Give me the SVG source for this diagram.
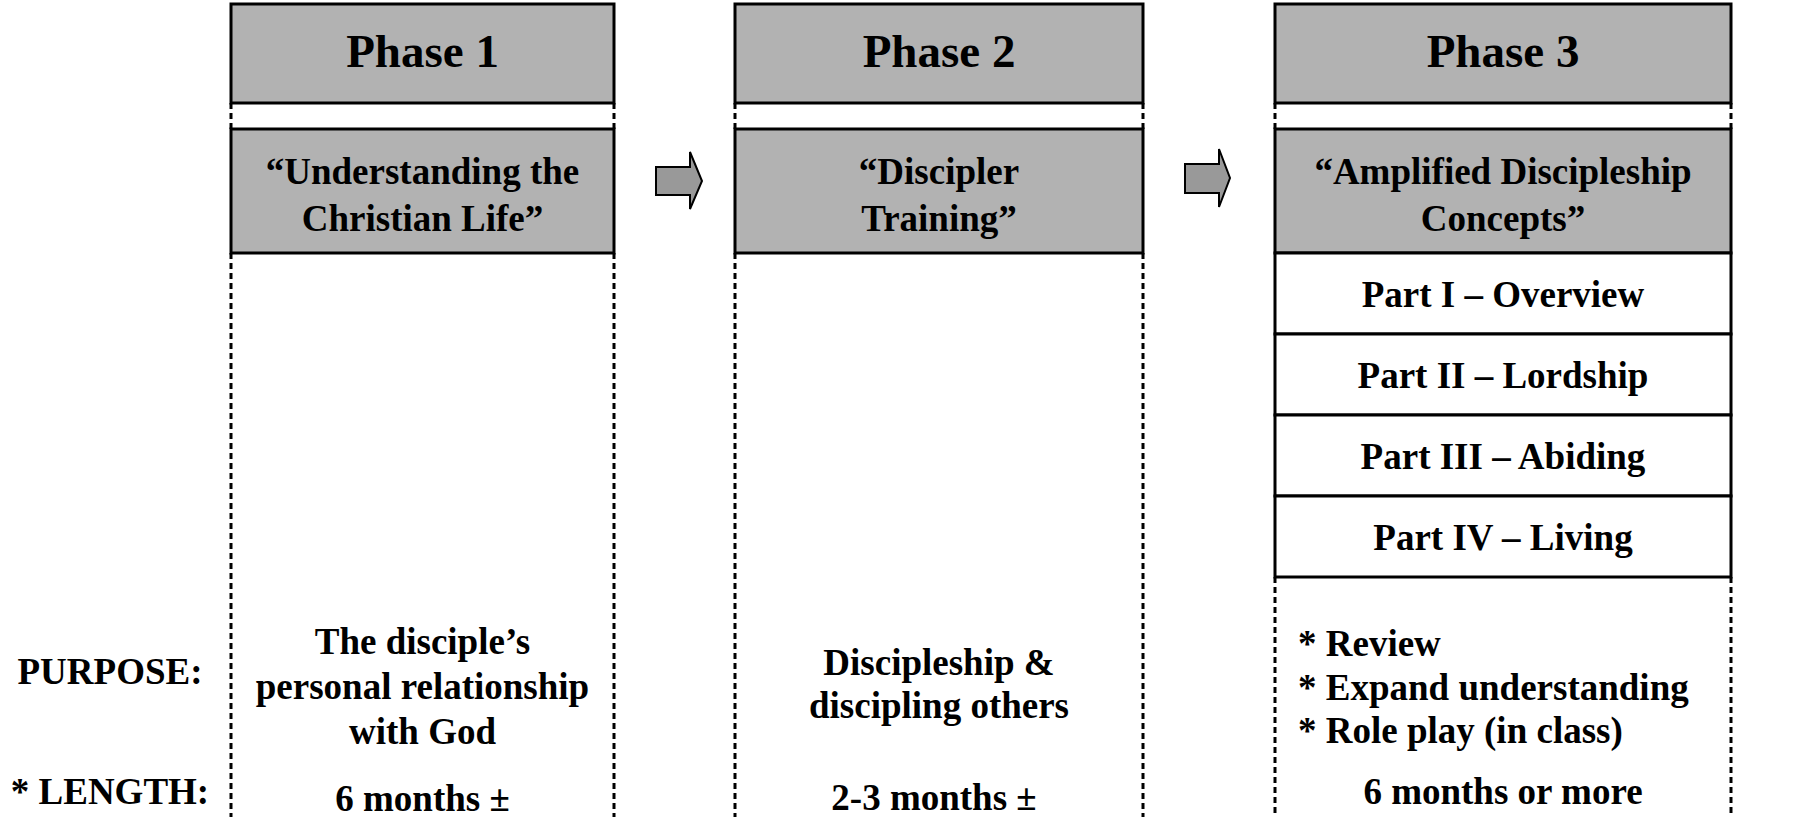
<svg xmlns="http://www.w3.org/2000/svg" width="1818" height="817" viewBox="0 0 1818 817">
<style>
text{font-family:"Liberation Serif","Times New Roman",serif;font-weight:bold;fill:#000;}
.t{font-size:47px;text-anchor:middle;}
.s{font-size:37px;text-anchor:middle;}
.l{font-size:37px;text-anchor:start;}
.hdr{fill:#b2b2b2;stroke:#000;stroke-width:3;}
.part{fill:#fff;stroke:#000;stroke-width:3;}
.dash{stroke:#000;stroke-width:3;stroke-dasharray:6 4;fill:none;}
.arrow{fill:#999;stroke:#000;stroke-width:2;stroke-linejoin:miter;}
</style>
<rect width="1818" height="817" fill="#fff"/>
<g id="connectors">
<path class="dash" d="M231 103V129M614 103V129M735 103V129M1143 103V129M1275 103V129M1731 103V129"/>
<path class="dash" d="M231 253V817M614 253V817M735 253V817M1143 253V817M1275 577V817M1731 577V817"/>
<polygon class="arrow" points="656,167 690,167 690,152 702,181 690,209 690,195 656,195"/>
<polygon class="arrow" points="1185,164 1219,164 1219,149 1230,178 1219,207 1219,193 1185,193"/>
</g>
<g id="phase1">
<rect class="hdr" x="231" y="4" width="383" height="99"/>
<text class="t" x="422.5" y="67">Phase 1</text>
<rect class="hdr" x="231" y="129" width="383" height="124"/>
<text class="s" x="422.5" y="184">“Understanding the</text>
<text class="s" x="422.5" y="231">Christian Life”</text>
</g>
<g id="phase2">
<rect class="hdr" x="735" y="4" width="408" height="99"/>
<text class="t" x="939" y="67">Phase 2</text>
<rect class="hdr" x="735" y="129" width="408" height="124"/>
<text class="s" x="939" y="184">“Discipler</text>
<text class="s" x="939" y="231">Training”</text>
</g>
<g id="phase3">
<rect class="hdr" x="1275" y="4" width="456" height="99"/>
<text class="t" x="1503" y="67">Phase 3</text>
<rect class="hdr" x="1275" y="129" width="456" height="124"/>
<text class="s" x="1503" y="184">“Amplified Discipleship</text>
<text class="s" x="1503" y="231">Concepts”</text>
</g>
<g id="part1"><rect class="part" x="1275" y="253" width="456" height="81"/><text class="s" x="1503" y="307">Part I – Overview</text></g>
<g id="part2"><rect class="part" x="1275" y="334" width="456" height="81"/><text class="s" x="1503" y="388">Part II – Lordship</text></g>
<g id="part3"><rect class="part" x="1275" y="415" width="456" height="81"/><text class="s" x="1503" y="469">Part III – Abiding</text></g>
<g id="part4"><rect class="part" x="1275" y="496" width="456" height="81"/><text class="s" x="1503" y="550">Part IV – Living</text></g>
<g id="labels">
<text class="s" x="110" y="684">PURPOSE:</text>
<text class="s" x="110" y="804">* LENGTH:</text>
</g>
<g id="purpose1">
<text class="s" x="422.5" y="654">The disciple’s</text>
<text class="s" x="422.5" y="699">personal relationship</text>
<text class="s" x="422.5" y="744">with God</text>
</g>
<g id="purpose2">
<text class="s" x="939" y="675">Discipleship &amp;</text>
<text class="s" x="939" y="718">discipling others</text>
</g>
<g id="purpose3">
<text class="l" x="1298" y="656">* Review</text>
<text class="l" x="1298" y="700">* Expand understanding</text>
<text class="l" x="1298" y="743">* Role play (in class)</text>
</g>
<g id="length">
<text class="s" x="422.5" y="811">6 months ±</text>
<text class="s" x="934" y="810">2-3 months ±</text>
<text class="s" x="1503" y="804">6 months or more</text>
</g>
</svg>
